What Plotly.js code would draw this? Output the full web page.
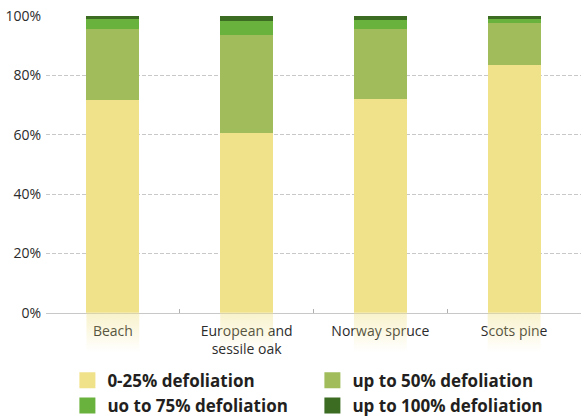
<!DOCTYPE html>
<html>
<head>
<meta charset="utf-8">
<script src="https://cdn.plot.ly/plotly-3.0.1.min.js"></script>
<style>
html,body{margin:0;padding:0;background:#fff;}
#chart{width:581px;height:417px;}
</style>
</head>
<body>
<div id="chart"></div>
<script>
var categories = ["Beach", "European and<br>sessile oak", "Norway spruce", "Scots pine"];
var seriesNames = ["0-25% defoliation", "up to 50% defoliation", "uo to 75% defoliation", "up to 100% defoliation"];
var defol25  = [71.7, 60.6, 72.0, 83.5];
var defol50  = [23.9, 33.0, 23.6, 14.1];
var defol75  = [3.4, 4.7, 3.1, 1.4];
var defol100 = [1.0, 1.7, 1.3, 1.0];
var colors = ["#f0e28b", "#a1bd5b", "#6ab23e", "#3b6c22"];
var yTicks = [0, 20, 40, 60, 80, 100];
var yTickText = yTicks.map(function(v){ return v + '%'; });

var xIdx = categories.map(function(c, i){ return i; });
var barW = 0.395;
var seriesVals = [defol25, defol50, defol75, defol100];

var traces = [];
// fade below bars
xIdx.forEach(function(i){
  traces.push({
    type: 'scatter', xaxis: 'x', yaxis: 'y2',
    x: [i - barW/2, i + barW/2, i + barW/2, i - barW/2, i - barW/2],
    y: [0, 0, 1, 1, 0],
    mode: 'none', fill: 'toself',
    fillgradient: {type: 'vertical', start: 0, stop: 1,
      colorscale: [[0, 'rgba(240,226,139,0)'], [1, 'rgba(240,226,139,0.45)']]},
    hoverinfo: 'skip', showlegend: false
  });
});
seriesVals.forEach(function(vals, k){
  traces.push({
    type: 'bar', x: xIdx, y: vals, width: barW,
    marker: {color: colors[k], line: {width: 0}},
    name: seriesNames[k], showlegend: false, hoverinfo: 'y'
  });
});
seriesNames.forEach(function(n, k){
  traces.push({
    type: 'scatter', x: [null], y: [null], mode: 'markers',
    marker: {symbol: 'square', size: 16, color: colors[k]},
    name: n, showlegend: true
  });
});

var layout = {
  width: 581, height: 417,
  margin: {l: 46, r: 0, t: 16, b: 65, autoexpand: false},
  paper_bgcolor: '#fff', plot_bgcolor: 'rgba(0,0,0,0)',
  barmode: 'stack',
  font: {family: 'Open Sans, sans-serif', color: '#3a3a3a', size: 14},
  xaxis: {
    range: [-0.5, 3.5], anchor: 'y',
    tickmode: 'array', tickvals: xIdx, ticktext: categories,
    ticks: '', showgrid: false, zeroline: false,
    showline: true, linecolor: '#c8c8c8', linewidth: 1.3,
    ticklabelstandoff: 5,
    minor: {tickvals: [0.5, 1.5, 2.5], ticks: 'inside', ticklen: 4, tickcolor: '#b0b0b0', showgrid: false},
    tickfont: {size: 14, color: '#2b2b2b'}
  },
  yaxis: {
    domain: [0.117, 1], range: [0, 100],
    tickmode: 'array', tickvals: yTicks, ticktext: yTickText,
    showgrid: true, gridcolor: '#c8c8c8', griddash: '4px,2px', gridwidth: 1,
    zeroline: false, showline: false, ticks: '',
    ticklabelstandoff: 4,
    tickfont: {size: 14, color: '#2b2b2b'}
  },
  yaxis2: {
    domain: [0, 0.117], range: [0, 1],
    showgrid: false, zeroline: false, showticklabels: false, ticks: ''
  },
  showlegend: true,
  legend: {
    orientation: 'h', x: 0.04, xanchor: 'left', y: -0.032, yanchor: 'top',
    entrywidth: 200, entrywidthmode: 'pixels', maxheight: 120,
    font: {size: 17, color: '#231f20', family: 'Open Sans, sans-serif', weight: 'bold'},
    itemclick: false, itemdoubleclick: false,
    traceorder: 'normal'
  }
};

Plotly.newPlot('chart', traces, layout, {displayModeBar: false, staticPlot: true});
</script>
</body>
</html>
